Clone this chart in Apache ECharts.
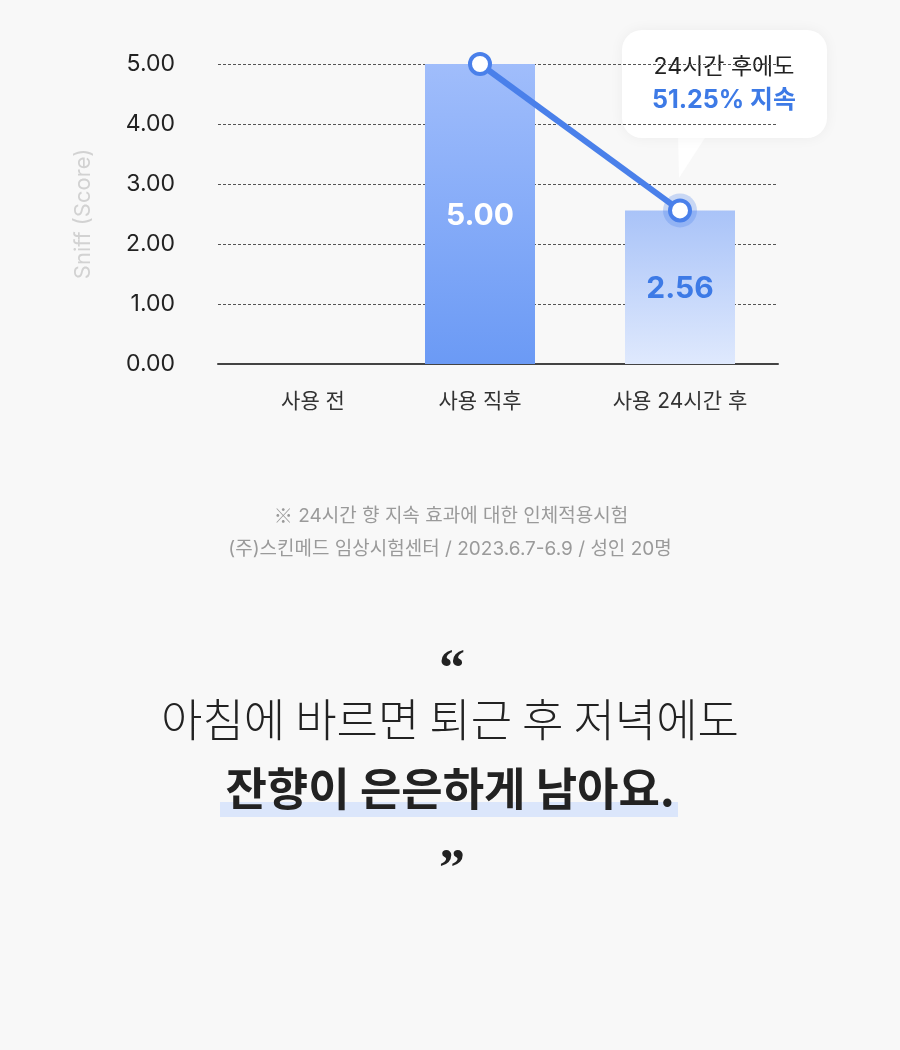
<!DOCTYPE html>
<html>
<head>
<meta charset="utf-8">
<script src="https://cdn.jsdelivr.net/npm/echarts@6/dist/echarts.min.js"></script>
<style>
  html, body { margin: 0; padding: 0; background: #f8f8f8; }
  #chart { width: 900px; height: 1050px; }
</style>
</head>
<body>
<div id="chart"></div>
<script>
// 데이터
const categories = ['사용 전', '사용 직후', '사용 24시간 후'];
const scores = [0, 5.00, 2.56];
const lineScores = ['-', 5.00, 2.56];
const yMin = 0;
const yMax = 5;
const yStep = 1;

const FONT = 'Inter, "Noto Sans CJK KR", sans-serif';
const KR = '"Noto Sans CJK KR", sans-serif';
const BLUE = '#4a80ea';

const chart = echarts.init(document.getElementById('chart'));

const barStyles = [
  null,
  {
    color: new echarts.graphic.LinearGradient(0, 0, 0, 1, [
      { offset: 0, color: '#a0bdfb' },
      { offset: 1, color: '#6b9af5' },
    ]),
    labelColor: '#ffffff',
  },
  {
    color: new echarts.graphic.LinearGradient(0, 0, 0, 1, [
      { offset: 0, color: '#a9c3f8' },
      { offset: 1, color: '#dfe9fd' },
    ]),
    labelColor: '#3d7ae6',
  },
];

const barData = scores.map((v, i) => {
  const s = barStyles[i];
  if (!s) return { value: v, label: { show: false } };
  return {
    value: v,
    itemStyle: { color: s.color },
    label: { color: s.labelColor },
  };
});

const option = {
  backgroundColor: '#f8f8f8',
  animation: false,
  grid: [
    // 축/눈금선용
    { left: 218, width: 560, top: 64, height: 300 },
    // 막대용
    { left: 180, width: 600, top: 64, height: 300 },
  ],
  xAxis: [
    {
      gridIndex: 0,
      type: 'category',
      data: categories,
      axisLine: { show: true, lineStyle: { color: '#444', width: 2 } },
      axisTick: { show: false },
      axisLabel: { show: false },
    },
    {
      gridIndex: 1,
      type: 'category',
      data: categories,
      axisLine: { show: false },
      axisTick: { show: false },
      axisLabel: {
        margin: 27,
        fontFamily: FONT,
        fontSize: 21,
        color: '#333',
        formatter: (v, i) => (i === 0 ? '{a|' + v + '}' : v),
        rich: {
          a: { fontFamily: FONT, fontSize: 21, color: '#333', padding: [0, 0, 0, 66] },
        },
      },
    },
  ],
  yAxis: [
    {
      gridIndex: 0,
      type: 'value',
      min: yMin,
      max: yMax,
      interval: yStep,
      name: 'Sniff (Score)',
      nameLocation: 'middle',
      nameRotate: 90,
      nameGap: 124,
      nameTextStyle: { color: '#d2d2d2', fontFamily: FONT, fontSize: 22 },
      axisLine: { show: false },
      axisTick: { show: false },
      axisLabel: {
        margin: 43,
        fontFamily: FONT,
        fontSize: 23,
        color: '#222',
        formatter: (v) => v.toFixed(2),
      },
      splitLine: {
        show: true,
        lineStyle: { color: '#555', width: 1, type: [3, 2] },
      },
    },
    {
      gridIndex: 1,
      type: 'value',
      min: yMin,
      max: yMax,
      interval: yStep,
      show: false,
      splitLine: { show: false },
    },
  ],
  series: [
    {
      type: 'bar',
      xAxisIndex: 1,
      yAxisIndex: 1,
      barWidth: 110,
      data: barData,
      label: {
        show: true,
        position: 'inside',
        offset: [0, 2],
        fontFamily: FONT,
        fontSize: 30,
        fontWeight: 'bold',
        formatter: (p) => p.value.toFixed(2),
      },
      z: 2,
    },
    {
      type: 'scatter',
      xAxisIndex: 1,
      yAxisIndex: 1,
      symbolSize: 34,
      itemStyle: { color: 'rgba(74,128,234,0.35)' },
      data: [[categories[2], scores[2]]],
      z: 3,
      silent: true,
    },
    {
      type: 'line',
      xAxisIndex: 1,
      yAxisIndex: 1,
      data: lineScores,
      symbol: 'circle',
      symbolSize: 20,
      showAllSymbol: true,
      lineStyle: { color: BLUE, width: 6 },
      itemStyle: { color: '#fff', borderColor: BLUE, borderWidth: 4 },
      z: 4,
    },
  ],
  graphic: [
    // 말풍선
    {
      type: 'group',
      z: 10,
      children: [
        {
          type: 'polygon',
          shape: { points: [[678, 130], [710, 130], [679, 178]] },
          style: { fill: '#fff' },
        },
        {
          type: 'rect',
          shape: { x: 622, y: 30, width: 205, height: 108, r: 20 },
          style: { fill: '#fff', shadowBlur: 14, shadowColor: 'rgba(0,0,0,0.05)' },
        },
        {
          type: 'text',
          style: {
            x: 724, y: 67, text: '24시간 후에도',
            fontFamily: FONT, fontSize: 23, fill: '#222',
            textAlign: 'center', textVerticalAlign: 'middle',
          },
        },
        {
          type: 'text',
          style: {
            x: 724, y: 100, text: '51.25% 지속',
            fontFamily: FONT, fontSize: 25, fontWeight: 'bold', fill: '#3d7ae6',
            textAlign: 'center', textVerticalAlign: 'middle',
          },
        },
      ],
    },
    // 출처
    {
      type: 'text',
      style: {
        x: 451, y: 516, text: '{m|※} 24시간 향 지속 효과에 대한 인체적용시험',
        fontFamily: FONT, fontSize: 19, fill: '#9a9a9a',
        textAlign: 'center', textVerticalAlign: 'middle',
        rich: {
          m: { fontFamily: KR, fontSize: 19, fill: '#9a9a9a' },
        },
      },
    },
    {
      type: 'text',
      style: {
        x: 450, y: 549, text: '(주)스킨메드 임상시험센터 / 2023.6.7-6.9 / 성인 20명',
        fontFamily: FONT, fontSize: 19, fill: '#9a9a9a',
        textAlign: 'center', textVerticalAlign: 'middle',
      },
    },
    // 인용구
    {
      type: 'text',
      style: {
        x: 452, y: 672, text: '\u201C',
        fontFamily: '"Liberation Serif", serif', fontSize: 52, fontWeight: 'bold', fill: '#222',
        textAlign: 'center', textVerticalAlign: 'middle',
      },
    },
    {
      type: 'text',
      style: {
        x: 450, y: 720, text: '아침에 바르면 퇴근 후 저녁에도',
        fontFamily: KR, fontSize: 45, fontWeight: 300, fill: '#222',
        textAlign: 'center', textVerticalAlign: 'middle',
      },
    },
    {
      type: 'rect',
      shape: { x: 220, y: 802, width: 458, height: 15 },
      style: { fill: '#dbe6fb' },
    },
    {
      type: 'text',
      style: {
        x: 450, y: 789, text: '잔향이 은은하게 남아요.',
        fontFamily: KR, fontSize: 45, fontWeight: 'bold', fill: '#222',
        textAlign: 'center', textVerticalAlign: 'middle',
      },
    },
    {
      type: 'text',
      style: {
        x: 452, y: 872, text: '\u201D',
        fontFamily: '"Liberation Serif", serif', fontSize: 52, fontWeight: 'bold', fill: '#222',
        textAlign: 'center', textVerticalAlign: 'middle',
      },
    },
  ],
};

chart.setOption(option);
</script>
</body>
</html>
